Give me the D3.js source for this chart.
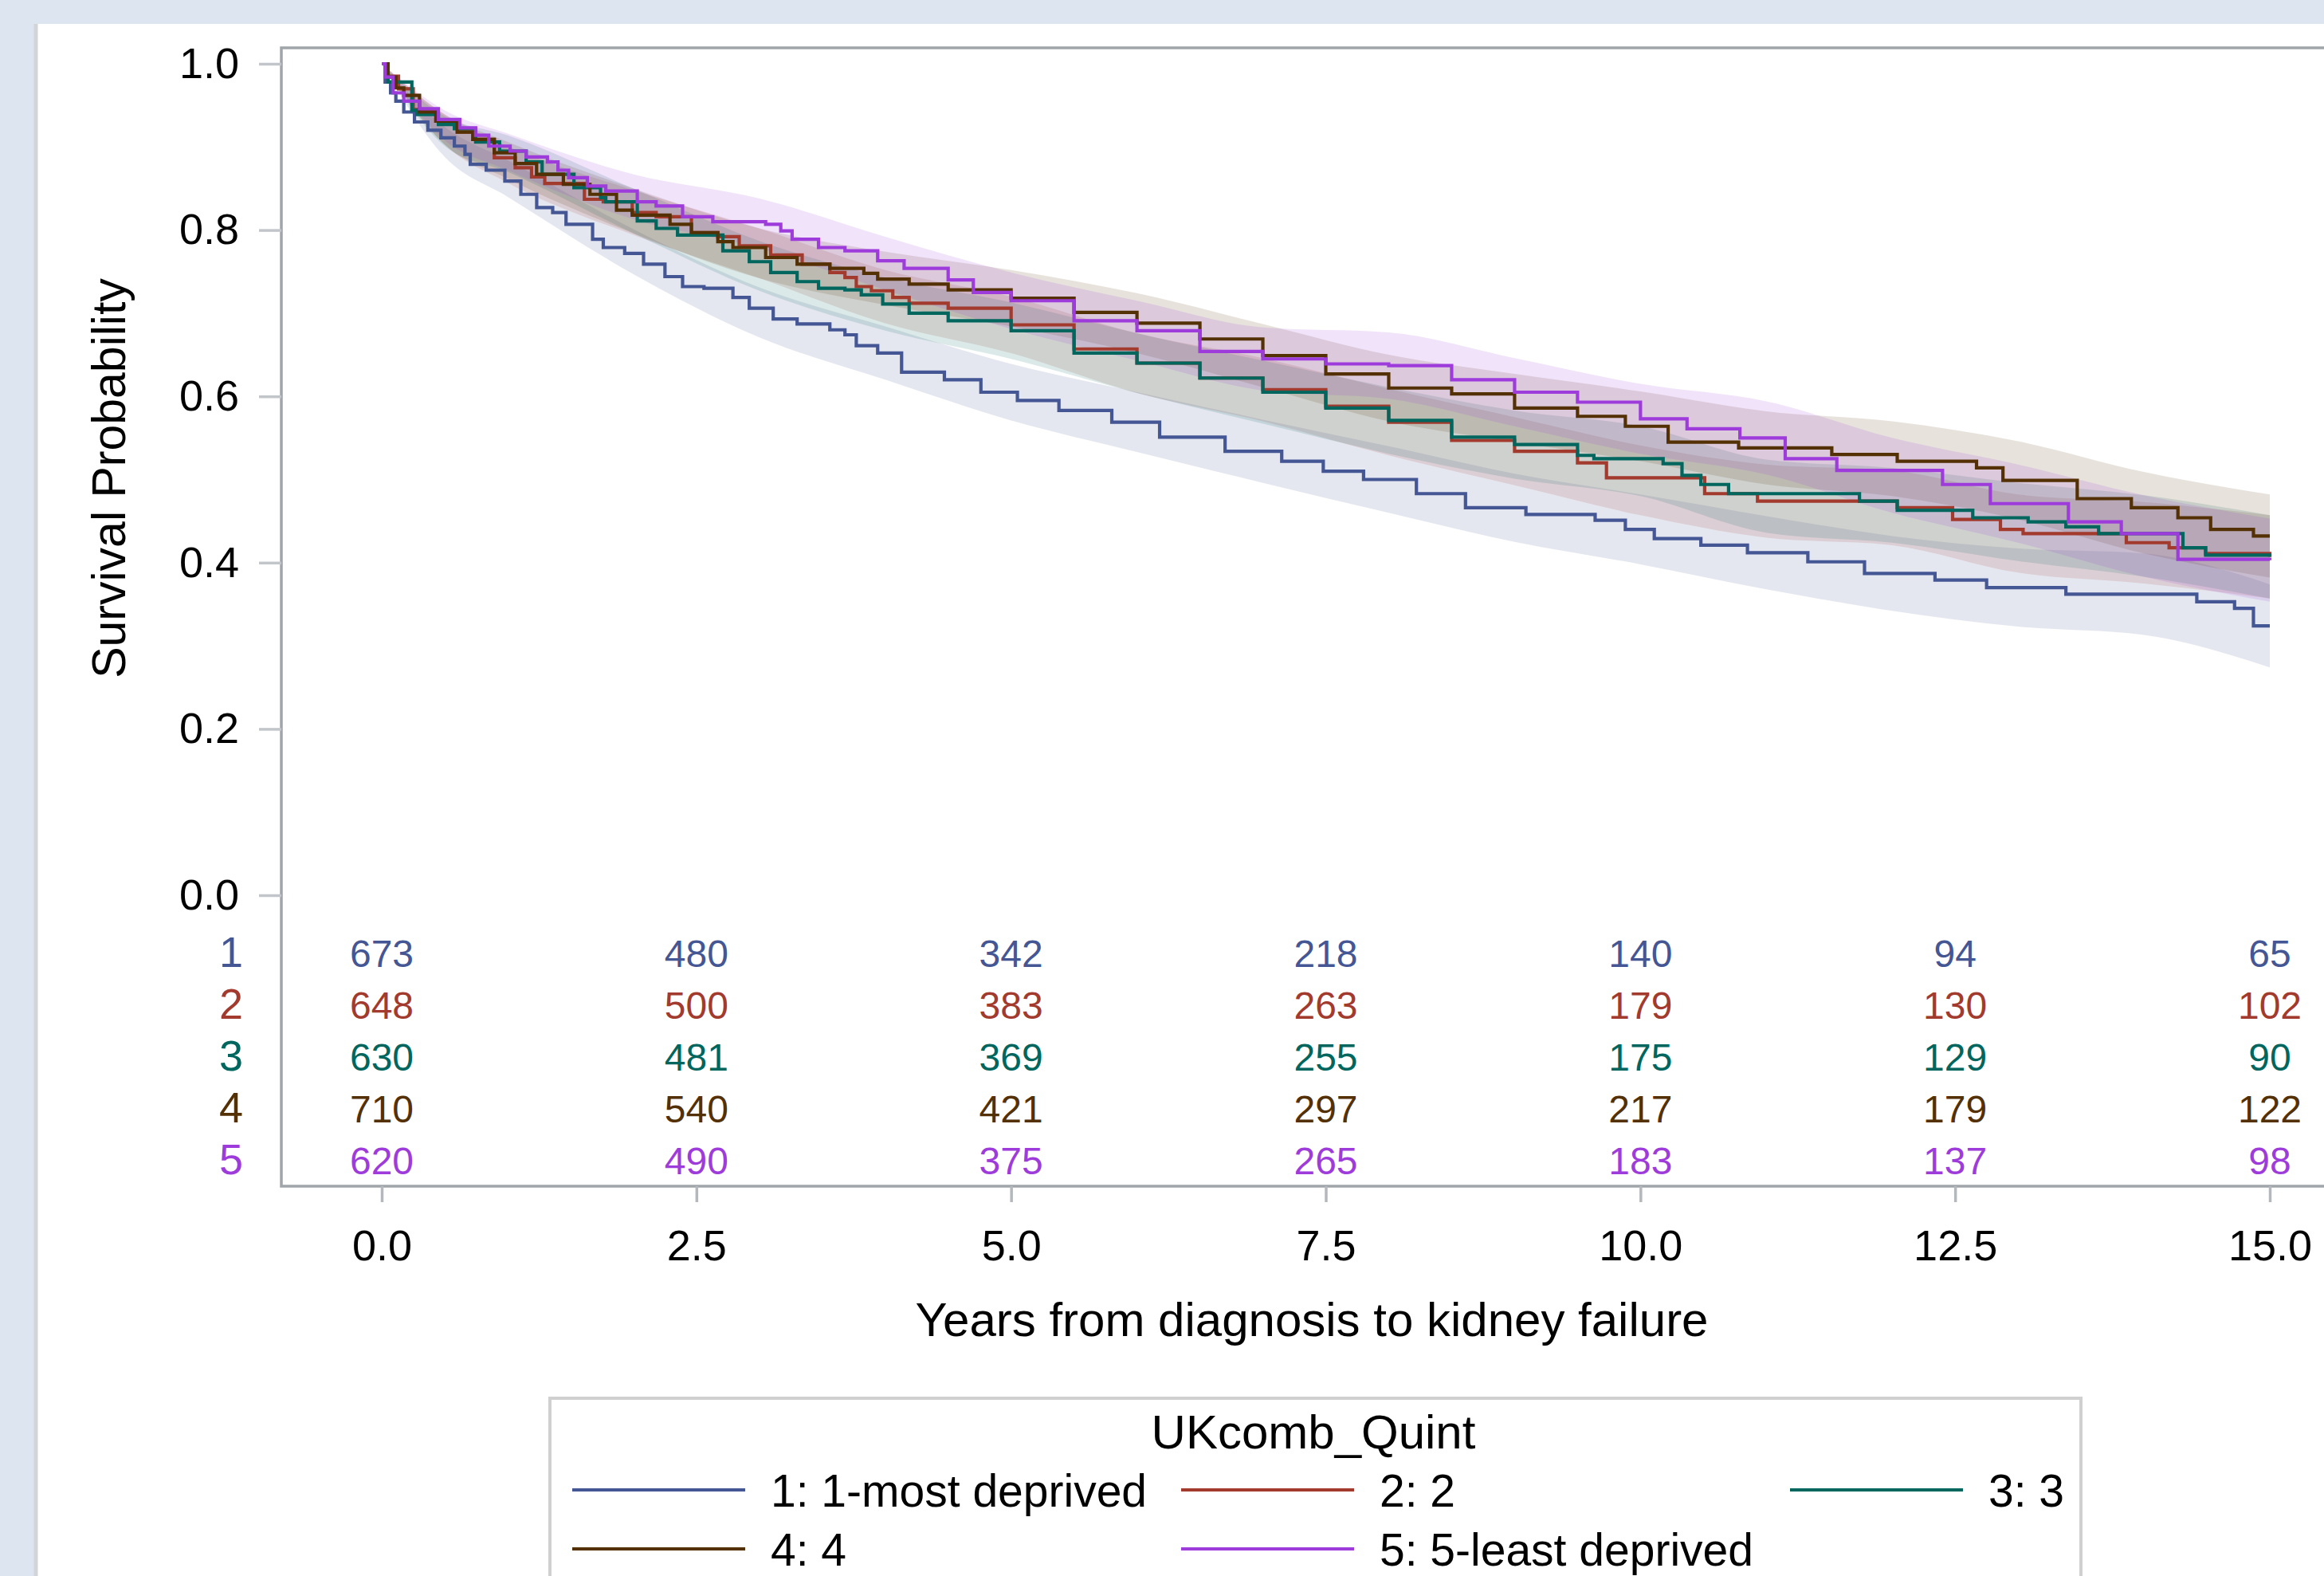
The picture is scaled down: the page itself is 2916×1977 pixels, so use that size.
<!DOCTYPE html>
<html>
<head>
<meta charset="utf-8">
<script src="https://cdn.jsdelivr.net/npm/d3@7"></script>
<style>
  body { margin: 0; background: #dde6f0; overflow: hidden; }
  text { font-family: "Liberation Sans", Arial, sans-serif; }
</style>
</head>
<body>
<div id="chart"></div>
<script>
// groups, colours and labels
const groups = ["1", "2", "3", "4", "5"];
const groupLabels = ["1: 1-most deprived", "2: 2", "3: 3", "4: 4", "5: 5-least deprived"];
const groupColors = ["#445694", "#a23a2e", "#01665e", "#543005", "#9d3cdb"];
const legendTitle = "UKcomb_Quint";

const xTicks = [0, 2.5, 5, 7.5, 10, 12.5, 15];
const yTicks = [0, 0.2, 0.4, 0.6, 0.8, 1.0];

// numbers at risk, read at the x tick times
const atRisk1 = [673, 480, 342, 218, 140, 94, 65];
const atRisk2 = [648, 500, 383, 263, 179, 130, 102];
const atRisk3 = [630, 481, 369, 255, 175, 129, 90];
const atRisk4 = [710, 540, 421, 297, 217, 179, 122];
const atRisk5 = [620, 490, 375, 265, 183, 137, 98];

// Kaplan-Meier estimates [years, survival]
const surv1 = [[0,1.0],[0.027,0.978],[0.07,0.965],[0.112,0.955],[0.175,0.942],[0.26,0.930],[0.366,0.920],
  [0.47,0.911],[0.577,0.901],[0.661,0.891],[0.703,0.879],[0.83,0.872],[0.978,0.859],[1.105,0.843],[1.231,0.827],
  [1.358,0.821],[1.464,0.807],[1.675,0.789],[1.76,0.779],[1.93,0.772],[2.08,0.759],[2.25,0.744],[2.39,0.732],
  [2.56,0.730],[2.79,0.719],[2.92,0.706],[3.11,0.693],[3.30,0.687],[3.56,0.680],[3.68,0.674],[3.77,0.661],
  [3.94,0.652],[4.13,0.629],[4.47,0.620],[4.76,0.605],[5.05,0.595],[5.38,0.583],[5.80,0.569],[6.18,0.551],
  [6.70,0.534],[7.15,0.522],[7.48,0.510],[7.80,0.500],[8.22,0.483],[8.61,0.466],[9.09,0.458],[9.64,0.451],
  [9.88,0.440],[10.11,0.429],[10.48,0.421],[10.85,0.412],[11.33,0.401],[11.78,0.387],[12.34,0.379],[12.75,0.370],
  [13.38,0.362],[14.42,0.353],[14.72,0.345],[14.87,0.324],[15.0,0.324]];
const surv2 = [[0,1.0],[0.049,0.985],[0.133,0.970],[0.25,0.945],[0.43,0.931],[0.60,0.918],
  [0.724,0.909],[0.894,0.887],[1.06,0.875],[1.19,0.864],[1.295,0.856],[1.61,0.837],[1.76,0.834],[1.99,0.821],
  [2.18,0.816],[2.46,0.797],[2.67,0.792],[2.84,0.781],[3.09,0.770],[3.34,0.759],[3.56,0.749],[3.68,0.743],
  [3.77,0.732],[3.89,0.727],[4.06,0.719],[4.19,0.712],[4.5,0.706],[5.0,0.686],[5.5,0.657],[6.0,0.640],[6.5,0.622],
  [7.0,0.608],[7.5,0.588],[8.0,0.569],[8.5,0.547],[9.0,0.534],[9.5,0.520],[9.73,0.502],[10.51,0.483],
  [10.93,0.474],[12.04,0.466],[12.48,0.452],[12.86,0.440],[13.04,0.435],[13.86,0.424],[14.20,0.418],
  [14.49,0.411],[15.0,0.407]];
const surv3 = [[0,1.0],[0.05,0.978],[0.239,0.944],[0.281,0.939],[0.45,0.927],[0.577,0.922],[0.746,0.906],
  [0.936,0.895],[1.147,0.882],[1.274,0.867],[1.527,0.851],[1.738,0.839],[1.78,0.834],[2.03,0.811],[2.18,0.802],
  [2.35,0.794],[2.71,0.775],[2.92,0.762],[3.09,0.749],[3.30,0.738],[3.47,0.730],[3.68,0.728],[3.81,0.722],
  [3.98,0.711],[4.19,0.700],[4.5,0.691],[5.0,0.679],[5.5,0.652],[6.0,0.640],[6.5,0.622],[7.0,0.605],[7.5,0.586],
  [8.0,0.571],[8.5,0.551],[9.0,0.542],[9.5,0.529],[9.63,0.525],[10.18,0.519],[10.33,0.505],[10.48,0.494],
  [10.70,0.483],[11.74,0.474],[12.04,0.463],[12.64,0.454],[13.08,0.449],[13.38,0.443],[13.64,0.435],
  [14.31,0.418],[14.49,0.409],[15.0,0.407]];
const surv4 = [[0,1.0],[0.049,0.984],[0.112,0.971],[0.175,0.962],[0.30,0.942],[0.43,0.931],[0.60,0.918],
  [0.724,0.909],[0.894,0.893],[1.06,0.880],[1.23,0.867],[1.443,0.855],[1.654,0.843],[1.865,0.824],[1.99,0.818],
  [2.29,0.807],[2.46,0.797],[2.67,0.786],[2.79,0.779],[3.05,0.767],[3.30,0.759],[3.56,0.754],[3.83,0.748],
  [3.94,0.741],[4.19,0.735],[4.5,0.728],[5.0,0.718],[5.5,0.701],[6.0,0.688],[6.5,0.669],[7.0,0.649],[7.5,0.627],
  [8.0,0.610],[8.5,0.603],[9.0,0.586],[9.5,0.576],[9.88,0.564],[10.22,0.545],[10.78,0.538],[11.52,0.530],
  [12.04,0.522],[12.67,0.514],[12.88,0.499],[13.47,0.477],[13.90,0.466],[14.27,0.454],[14.53,0.440],
  [14.87,0.432],[15.0,0.432]];
const surv5 = [[0,1.0],[0.027,0.984],[0.09,0.965],[0.175,0.955],[0.30,0.946],[0.45,0.933],[0.62,0.923],
  [0.746,0.914],[0.85,0.901],[1.02,0.895],[1.147,0.888],[1.316,0.882],[1.40,0.872],[1.485,0.863],[1.633,0.853],
  [1.78,0.847],[2.03,0.834],[2.18,0.829],[2.39,0.816],[2.63,0.810],[3.05,0.807],[3.17,0.799],[3.26,0.789],
  [3.47,0.779],[3.68,0.775],[3.94,0.763],[4.15,0.754],[4.5,0.740],[4.7,0.725],[5.0,0.715],[5.5,0.691],
  [6.0,0.679],[6.5,0.654],[7.0,0.645],[7.5,0.639],[8.0,0.637],[8.5,0.620],[9.0,0.605],[9.5,0.593],[10.0,0.573],
  [10.37,0.561],[10.79,0.550],[11.15,0.525],[11.56,0.511],[12.40,0.494],[12.78,0.471],[13.40,0.449],
  [13.82,0.435],[14.27,0.404],[15.0,0.403]];

// confidence band edges, read at these times
const bandTimes = [0, 0.5, 1, 2, 3, 4, 5, 6, 7, 8, 9, 10, 11, 12, 13, 14, 15];
const lower1 = [1.0, .888, .840, .747, .671, .620, .571, .533, .496, .460, .425, .398, .368, .342, .323, .313, .274];
const upper1 = [1.0, .924, .884, .801, .731, .684, .639, .605, .572, .540, .507, .482, .456, .432, .417, .411, .374];
const lower2 = [1.0, .903, .857, .794, .742, .688, .652, .604, .570, .529, .493, .457, .430, .421, .388, .375, .357];
const upper2 = [1.0, .939, .901, .848, .802, .752, .720, .676, .646, .609, .575, .541, .518, .511, .482, .473, .457];
const lower3 = [1.0, .901, .870, .796, .727, .679, .645, .604, .567, .531, .501, .480, .436, .424, .402, .383, .357];
const upper3 = [1.0, .937, .914, .850, .787, .743, .713, .676, .643, .611, .583, .564, .524, .514, .496, .481, .457];
const lower4 = [1.0, .903, .862, .796, .742, .710, .684, .652, .611, .570, .545, .522, .494, .480, .452, .411, .382];
const upper4 = [1.0, .939, .906, .850, .802, .774, .752, .724, .687, .650, .627, .606, .582, .570, .546, .509, .482];
const lower5 = [1.0, .908, .872, .813, .778, .728, .681, .643, .607, .597, .564, .531, .506, .460, .424, .383, .353];
const upper5 = [1.0, .944, .916, .867, .838, .792, .749, .715, .683, .677, .646, .615, .594, .550, .518, .481, .453];

const survAll = [surv1, surv2, surv3, surv4, surv5];
const atRiskAll = [atRisk1, atRisk2, atRisk3, atRisk4, atRisk5];
const lowerAll = [lower1, lower2, lower3, lower4, lower5];
const upperAll = [upper1, upper2, upper3, upper4, upper5];

// page layout
const W = 2916, H = 1977;
const frame = { left: 353, top: 60, bottom: 1488 };
const fontFam = '"Liberation Sans", Arial, sans-serif';

const svg = d3.select("#chart")
  .append("svg")
  .attr("width", W)
  .attr("height", H);

svg.append("rect").attr("width", W).attr("height", H).attr("fill", "#dde6f0");
svg.append("rect").attr("x", 45).attr("y", 30).attr("width", W).attr("height", H).attr("fill", "#ffffff");
svg.append("line").attr("x1", 45).attr("x2", 45).attr("y1", 30).attr("y2", H)
  .attr("stroke", "#d2d4d6").attr("stroke-width", 5);

const x = d3.scaleLinear().domain([0, 15]).range([479, 2848]);
const y = d3.scaleLinear().domain([0, 1]).range([1123, 80]);

// confidence bands
const band = d3.area()
  .x(function (d) { return x(d.t) })
  .y0(function (d) { return y(d.lo) })
  .y1(function (d) { return y(d.hi) })
  .curve(d3.curveMonotoneX);

groups.forEach(function (g, i) {
  const rows = bandTimes.map(function (t, k) { return { t: t, lo: lowerAll[i][k], hi: upperAll[i][k] } });
  svg.append("path")
    .datum(rows)
    .attr("fill", groupColors[i])
    .attr("fill-opacity", 0.14)
    .attr("d", band);
});

// survival step lines
const step = d3.line()
  .x(function (d) { return x(d[0]) })
  .y(function (d) { return y(d[1]) })
  .curve(d3.curveStepAfter);

groups.forEach(function (g, i) {
  svg.append("path")
    .datum(survAll[i])
    .attr("fill", "none")
    .attr("stroke", groupColors[i])
    .attr("stroke-width", 4.2)
    .attr("d", step);
});

// frame
svg.append("rect")
  .attr("x", frame.left).attr("y", frame.top)
  .attr("width", W).attr("height", frame.bottom - frame.top)
  .attr("fill", "none").attr("stroke", "#a0a5aa").attr("stroke-width", 3.5);

// Y axis
const yAxis = svg.append("g")
  .attr("transform", `translate(${frame.left},0)`)
  .call(d3.axisLeft(y).tickValues(yTicks).tickFormat(d3.format(".1f")).tickSize(28).tickPadding(25));
yAxis.select(".domain").remove();
yAxis.selectAll("line").attr("stroke", "#c2c6ca").attr("stroke-width", 3.5);
yAxis.selectAll("text").attr("fill", "#000").style("font-size", "54px").style("font-family", fontFam);

// X axis
const xAxis = svg.append("g")
  .attr("transform", `translate(0,${frame.bottom})`)
  .call(d3.axisBottom(x).tickValues(xTicks).tickFormat(d3.format(".1f")).tickSize(20).tickPadding(35));
xAxis.select(".domain").remove();
xAxis.selectAll("line").attr("stroke", "#b4b8bc").attr("stroke-width", 3.5);
xAxis.selectAll("text").attr("fill", "#000").style("font-size", "54px").style("font-family", fontFam);

// at-risk table
const rowY = d3.scalePoint().domain(groups).range([1196, 1456]);
groups.forEach(function (g, i) {
  svg.append("text")
    .attr("x", 305).attr("y", rowY(g) - 2).attr("dy", "0.36em")
    .attr("text-anchor", "end")
    .style("font-size", "54px")
    .attr("fill", groupColors[i])
    .text(g);
  svg.append("g").selectAll("text")
    .data(atRiskAll[i])
    .join("text")
    .attr("x", function (d, k) { return x(xTicks[k]) })
    .attr("y", rowY(g)).attr("dy", "0.36em")
    .attr("text-anchor", "middle")
    .style("font-size", "48px")
    .attr("fill", groupColors[i])
    .text(function (d) { return d });
});

// axis titles
svg.append("text")
  .attr("x", 1646).attr("y", 1676)
  .attr("text-anchor", "middle")
  .style("font-size", "60px")
  .text("Years from diagnosis to kidney failure");

svg.append("text")
  .attr("transform", "translate(157,600) rotate(-90)")
  .attr("text-anchor", "middle")
  .style("font-size", "59px")
  .text("Survival Probability");

// legend
const legend = svg.append("g");
legend.append("rect")
  .attr("x", 690).attr("y", 1754).attr("width", 1921).attr("height", 400)
  .attr("fill", "#fff").attr("stroke", "#d0d0d0").attr("stroke-width", 4);
legend.append("text")
  .attr("x", 1648).attr("y", 1817)
  .attr("text-anchor", "middle")
  .style("font-size", "60px")
  .text(legendTitle);

const colX = [718, 1482, 2246];
const rowLY = [1869, 1943];
groupLabels.forEach(function (lab, i) {
  const lx = colX[i % 3], ly = rowLY[Math.floor(i / 3)];
  legend.append("line")
    .attr("x1", lx).attr("x2", lx + 217)
    .attr("y1", ly).attr("y2", ly)
    .attr("stroke", groupColors[i]).attr("stroke-width", 4);
  legend.append("text")
    .attr("x", lx + 249).attr("y", ly).attr("dy", "0.36em")
    .style("font-size", "57px")
    .text(lab);
});
</script>
</body>
</html>
